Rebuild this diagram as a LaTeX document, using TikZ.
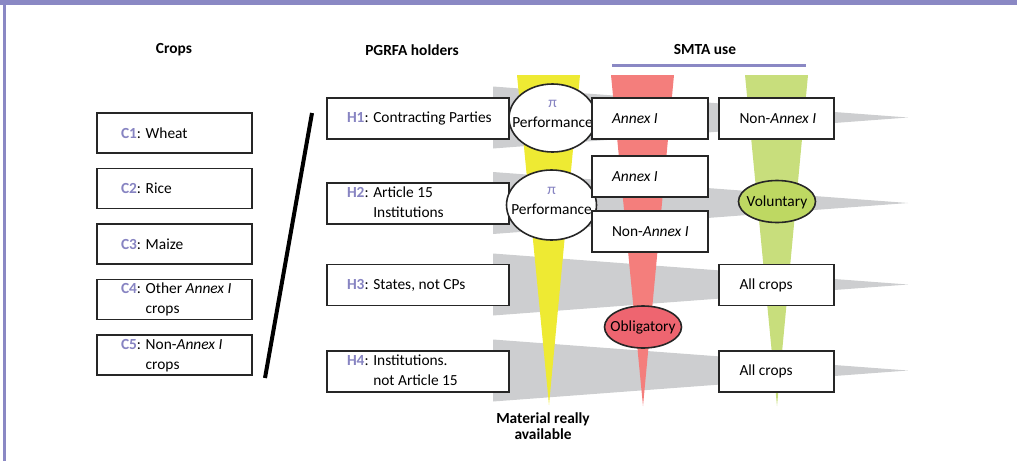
\documentclass[tikz,border=0pt]{standalone}
\usepackage{fontspec}
\setmainfont{Carlito}
\usetikzlibrary{shapes.geometric}
\definecolor{framepurple}{HTML}{8A88C4}
\definecolor{labpurple}{HTML}{8784C2}
\definecolor{wedgegrey}{HTML}{CDCED0}
\definecolor{funnelyellow}{HTML}{EEEA33}
\definecolor{funnelred}{HTML}{F47E7C}
\definecolor{funnelgreen}{HTML}{C8DE7C}
\definecolor{ovalred}{HTML}{EE6570}
\definecolor{ovalgreen}{HTML}{BED862}
\newcommand{\hl}[1]{\textcolor{labpurple}{\textbf{#1}}}
\newcommand{\lft}[2]{\makebox[#1][l]{#2}}
\newcommand{\twolines}[3]{\hl{#1}: \begin{tabular}[t]{@{}l@{}}#2\\#3\end{tabular}}
% text of fixed size ovals: no width, no height
\newcommand{\ovaltext}[1]{\makebox[0pt]{\raisebox{-2.4pt}[0pt][0pt]{#1}}}
\newcommand{\perftext}{\makebox[0pt]{\raisebox{-4.5pt}[0pt][0pt]{\begin{tabular}[b]{@{}c@{}}\textcolor{labpurple}{π}\\Performance\end{tabular}}}}

\begin{document}
\begin{tikzpicture}[x=0.5pt,y=-0.5pt,
  every node/.style={font=\fontsize{7.7}{10}\selectfont},
  cropbox/.style={draw=black!85,line width=0.8pt,fill=white,inner ysep=0pt,minimum width=77.5pt,minimum height=20pt},
  holderbox/.style={cropbox,minimum width=91pt,minimum height=20.5pt},
  smtabox/.style={cropbox,minimum width=58pt,minimum height=20.5pt},
  perfoval/.style={ellipse,draw=black!85,line width=0.8pt,fill=white,inner sep=0pt,minimum width=43.5pt,minimum height=34pt},
  smtaoval/.style={ellipse,draw=black!85,line width=0.8pt,inner sep=0pt,minimum width=38.5pt,minimum height=21pt},
  colhead/.style={font=\fontsize{7.7}{10}\selectfont\bfseries}]
       \useasboundingbox (0,0) rectangle (1017,461);
       % frame
       \fill[framepurple] (0,0) rectangle (1017,5);
       \fill[framepurple] (3,0) rectangle (6,461);
       % grey wedges, one per holder row
       \foreach \yc in {117.5,203,284.5,370.5}
         \fill[wedgegrey] (493,\yc-31) -- (493,\yc+31) -- (908,\yc) -- cycle;
       % funnels
       \fill[funnelyellow] (517,75) -- (580,75) -- (549,405) -- cycle;
       \fill[funnelred] (611,75) -- (674,75) -- (643,406) -- cycle;
       \fill[funnelgreen] (745,75) -- (808,75) -- (777,406) -- cycle;
       % headings
       \node[colhead] (hcrops) at (174,50) {Crops};
       \node[colhead] (hholders) at (412,50) {PGRFA holders};
       \node[colhead] (hsmta) at (705,50) {SMTA use};
       \draw[framepurple,line width=1.5pt] (612,65) -- (806,65);
       % crops
       \node[cropbox] (c1) at (174.5,133) {\lft{53.5pt}{\hl{C1}: Wheat}};
       \node[cropbox] (c2) at (174.5,188.5) {\lft{53.5pt}{\hl{C2}: Rice}};
       \node[cropbox] (c3) at (174.5,244) {\lft{53.5pt}{\hl{C3}: Maize}};
       \node[cropbox] (c4) at (174.5,299.5) {\lft{53.5pt}{\twolines{C4}{Other \emph{Annex I}}{crops}}};
       \node[cropbox] (c5) at (174.5,355) {\lft{53.5pt}{\twolines{C5}{Non-\emph{Annex I}}{crops}}};
       \draw[line width=2pt] (312,113) -- (265,378);
       % holders
       \node[holderbox] (h1) at (418,118.5) {\lft{71pt}{\hl{H1}: Contracting Parties}};
       \node[holderbox] (h2) at (418,203.5) {\lft{71pt}{\twolines{H2}{Article 15}{Institutions}}};
       \node[holderbox] (h3) at (418,285) {\lft{71pt}{\hl{H3}: States, not CPs}};
       \node[holderbox] (h4) at (418,371.5) {\lft{71pt}{\twolines{H4}{Institutions.}{not Article 15}}};
       % performance
       \node[perfoval] (perf1) at (552.5,118) {\perftext};
       \node[perfoval,minimum width=45pt,minimum height=35pt] (perf2) at (551.5,205) {\perftext};
       % SMTA use
       \node[smtabox] (ann1) at (650,118.5) {\lft{38pt}{\emph{Annex I}}};
       \node[smtabox,minimum width=57.5pt] (non1) at (776.5,118.5) {\lft{37pt}{Non-\emph{Annex I}}};
       \node[smtabox] (ann2) at (650,176.5) {\lft{38pt}{\emph{Annex I}}};
       \node[smtabox] (non2) at (650,231.5) {\lft{38pt}{Non-\emph{Annex I}}};
       \node[smtabox,minimum width=57.5pt] (all3) at (776.5,285) {\lft{37pt}{All crops}};
       \node[smtabox,minimum width=57.5pt] (all4) at (776.5,371.5) {\lft{37pt}{All crops}};
       \node[smtaoval,fill=ovalgreen] (vol) at (777,201.5) {\ovaltext{Voluntary}};
       \node[smtaoval,fill=ovalred] (obl) at (643,327) {\ovaltext{Obligatory}};
       \node[colhead,align=center] (avail) at (543,426) {Material really\\[-2pt]available};
\end{tikzpicture}
\end{document}
